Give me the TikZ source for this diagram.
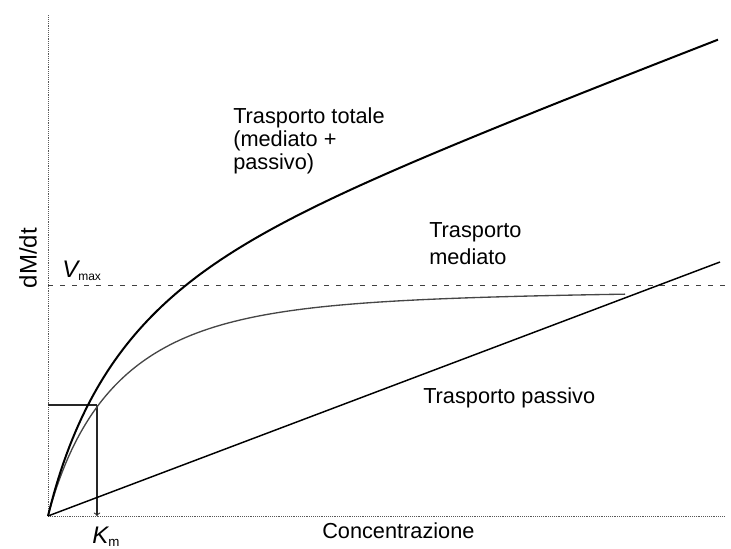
\documentclass[tikz,border=0pt]{standalone}
\usepackage{fontspec}
\setmainfont{Liberation Sans}
\usetikzlibrary{arrows,positioning}

\begin{document}
\begin{tikzpicture}[x=0.75pt, y=-0.75pt, >=to,
                    font=\fontsize{16.3}{17.5}\selectfont,
                    declare function={med(\c)=115.5*(\c/(49+\c)+1-exp(-0.012*\c));
                                      pas(\c)=254*(\c/672);}]
    \tikzstyle{axis} = [densely dotted, gray!70!black, thin]
    \tikzstyle{guide} = [dashed, dash pattern=on 4pt off 5pt, gray!50!black, thin]
    \tikzstyle{curve} = [black, line width=1.5pt]
    \tikzstyle{label} = [align=left, inner sep=0pt, anchor=north west]
    \tikzstyle{symb} = [inner sep=0pt, anchor=base west,
                        font=\fontsize{18}{20}\selectfont\itshape]

    \useasboundingbox (0,0) rectangle (731,549);

    % axes
    \coordinate (origin) at (48,516);
    \coordinate (ytop) at (48,15);
    \coordinate (xend) at (724,516);
    \draw[axis] (origin) -- (ytop);
    \draw[axis] (origin) -- (xend);

    % Vmax and Km guides
    \coordinate (vleft) at (48,285);
    \coordinate (vright) at (731,285);
    \coordinate (kmleft) at (48,405);
    \coordinate (kmpt) at (97,405);
    \coordinate (km) at (97,516);
    \draw[guide] (vleft) -- (vright);
    \draw[thick, gray!30!black] (kmleft) -- (kmpt);
    \draw[->, thick, gray!30!black] (kmpt) -- (km);

    % curves
    \coordinate (pend) at (720,262);
    \draw[curve, line width=1.1pt] (origin) -- (pend);
    \draw[gray!55!black, line width=1pt] plot[domain=0:577, samples=200]
        ({48+\x}, {516-med(\x)});
    \draw[curve] plot[domain=0:670, samples=220]
        ({48+\x}, {516-med(\x)-pas(\x)});

    % labels
    \node (total) [label] at (233,107) {Trasporto totale\\(mediato +\\passivo)};
    \node (mediato) [label] at (429,222) {Trasporto\\[3pt]mediato};
    \node (passivo) [label, anchor=base west] at (423,403) {Trasporto passivo};
    \node (conc) [label, anchor=base west] at (322,538) {Concentrazione};
    \node (dmdt) [rotate=90, font=\fontsize{18}{20}\selectfont] at (28,258) {dM/dt};
    \node (vmax) [symb] at (62,277) {V\textsubscript{\upshape\fontsize{9}{10}\selectfont max}};
    \node (kmlab) [symb] at (92,543) {K\textsubscript{\upshape\fontsize{10}{10}\selectfont m}};
\end{tikzpicture}
\end{document}
